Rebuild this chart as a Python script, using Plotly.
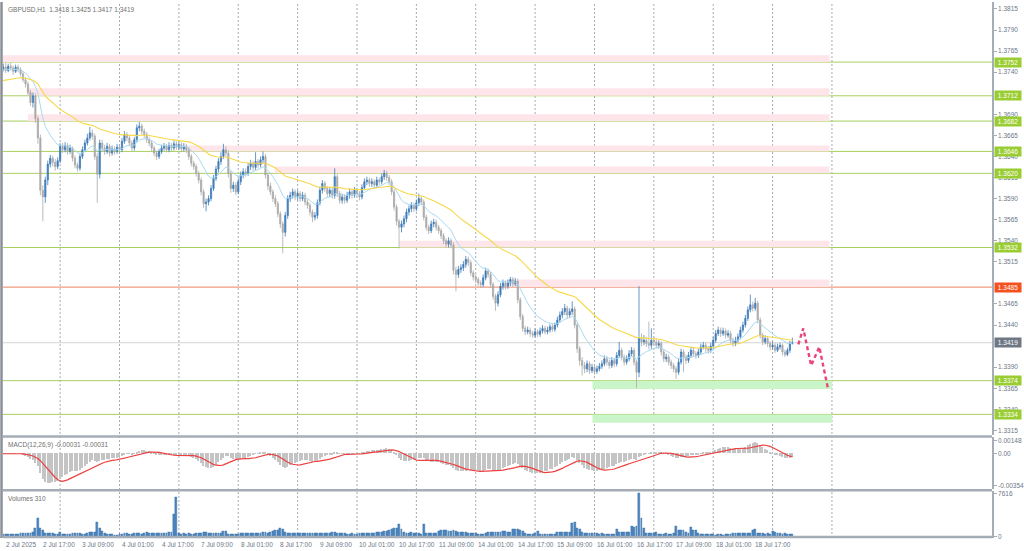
import plotly.graph_objects as go

# ---------------- data (GBPUSD H1) ----------------
first_open = 1.3742
closes = [
 1.3744, 1.3746, 1.3742, 1.3747, 1.3745, 1.3741, 1.3746, 1.3743, 1.3738, 1.3731,
 1.3726, 1.3716, 1.3704, 1.3712, 1.3685, 1.3662, 1.3600, 1.3592, 1.3612, 1.3631,
 1.3638, 1.3633, 1.3628, 1.3635, 1.3652, 1.3648, 1.3653, 1.3646, 1.3650, 1.3638,
 1.3630, 1.3626, 1.3640, 1.3648, 1.3656, 1.3662, 1.3668, 1.3664, 1.3640, 1.3619,
 1.3656, 1.3650, 1.3646, 1.3652, 1.3644, 1.3649, 1.3646, 1.3651, 1.3648, 1.3658,
 1.3666, 1.3662, 1.3656, 1.3650, 1.3660, 1.3674, 1.3676, 1.3670, 1.3666, 1.3660,
 1.3656, 1.3650, 1.3644, 1.3640, 1.3646, 1.3650, 1.3652, 1.3648, 1.3653, 1.3650,
 1.3655, 1.3651, 1.3654, 1.3649, 1.3652, 1.3648, 1.3640, 1.3632, 1.3628, 1.3620,
 1.3612, 1.3598, 1.3584, 1.3586, 1.3590, 1.3602, 1.3614, 1.3625, 1.3634, 1.3640,
 1.3648, 1.3644, 1.3620, 1.3602, 1.3606, 1.3598, 1.3610, 1.3618, 1.3622, 1.3620,
 1.3628, 1.3632, 1.3627, 1.3634, 1.3630, 1.3636, 1.3640, 1.3618, 1.3605, 1.3598,
 1.3590, 1.3584, 1.3572, 1.3560, 1.3550, 1.3570, 1.3590, 1.3594, 1.3598, 1.3592,
 1.3596, 1.3590, 1.3594, 1.3586, 1.3582, 1.3574, 1.3568, 1.3570, 1.3585, 1.3600,
 1.3608, 1.3602, 1.3596, 1.3600, 1.3594, 1.3616, 1.3596, 1.3588, 1.3592, 1.3588,
 1.3594, 1.3598, 1.3594, 1.3600, 1.3596, 1.3592, 1.3603, 1.3610, 1.3612, 1.3608,
 1.3610, 1.3606, 1.3612, 1.3610, 1.3616, 1.3620, 1.3615, 1.3610, 1.3598, 1.3580,
 1.3563, 1.3556, 1.3560, 1.3566, 1.3574, 1.3578, 1.3582, 1.3578, 1.3585, 1.3590,
 1.3586, 1.3568, 1.3556, 1.3552, 1.3560, 1.3562, 1.3556, 1.3552, 1.3546, 1.3540,
 1.3536, 1.3540, 1.3535, 1.3505, 1.3500, 1.3506, 1.3508, 1.3512, 1.3518, 1.3514,
 1.3502, 1.3497, 1.3494, 1.3490, 1.3488, 1.3496, 1.3504, 1.3500, 1.3488, 1.3474,
 1.3466, 1.3476, 1.3486, 1.3490, 1.3486, 1.3490, 1.3494, 1.3489, 1.3492, 1.3470,
 1.3450, 1.3436, 1.3432, 1.3434, 1.3430, 1.3428, 1.3432, 1.3429, 1.3433, 1.3436,
 1.3432, 1.3434, 1.3438, 1.3435, 1.3440, 1.3446, 1.3452, 1.3456, 1.3460, 1.3452,
 1.3456, 1.3459, 1.3440, 1.3412, 1.3398, 1.3392, 1.3388, 1.3394, 1.3386, 1.3390,
 1.3385, 1.3388, 1.3391, 1.3394, 1.3400, 1.3396, 1.3392, 1.3398, 1.3394, 1.3404,
 1.3410, 1.3402, 1.3396, 1.3400, 1.3406, 1.3410, 1.3396, 1.3384, 1.3424, 1.3420,
 1.3422, 1.3418, 1.3416, 1.3422, 1.3420, 1.3416, 1.3418, 1.3408, 1.3400, 1.3402,
 1.3396, 1.3392, 1.3388, 1.3384, 1.3396, 1.3408, 1.3402, 1.3398, 1.3404, 1.3410,
 1.3406, 1.3404, 1.3408, 1.3414, 1.3416, 1.3412, 1.3410, 1.3415, 1.3422, 1.3430,
 1.3434, 1.3430, 1.3433, 1.3428, 1.3430, 1.3422, 1.3418, 1.3422, 1.3426, 1.3434,
 1.3440, 1.3448, 1.3458, 1.3464, 1.3460, 1.3466, 1.3446, 1.3428, 1.3420, 1.3424,
 1.3418, 1.3414, 1.3416, 1.3410, 1.3414, 1.3416, 1.3408, 1.3405, 1.3410, 1.3418,
 1.3419,
]
highs = [
 1.3748, 1.3750, 1.3751, 1.3750, 1.3751, 1.3748, 1.3749, 1.3749, 1.3746, 1.3741,
 1.3734, 1.3729, 1.3719, 1.3716, 1.3715, 1.3688, 1.3666, 1.3606, 1.3616, 1.3635,
 1.3642, 1.3641, 1.3637, 1.3639, 1.3656, 1.3656, 1.3657, 1.3656, 1.3654, 1.3652,
 1.3641, 1.3633, 1.3643, 1.3652, 1.3660, 1.3667, 1.3675, 1.3672, 1.3667, 1.3644,
 1.3660, 1.3660, 1.3654, 1.3656, 1.3655, 1.3653, 1.3652, 1.3655, 1.3654, 1.3662,
 1.3670, 1.3669, 1.3665, 1.3659, 1.3663, 1.3678, 1.3681, 1.3679, 1.3673, 1.3669,
 1.3663, 1.3659, 1.3653, 1.3647, 1.3649, 1.3654, 1.3656, 1.3655, 1.3657, 1.3656,
 1.3659, 1.3658, 1.3658, 1.3657, 1.3656, 1.3655, 1.3651, 1.3643, 1.3635, 1.3631,
 1.3623, 1.3615, 1.3601, 1.3590, 1.3594, 1.3606, 1.3618, 1.3629, 1.3638, 1.3645,
 1.3655, 1.3652, 1.3647, 1.3623, 1.3610, 1.3609, 1.3614, 1.3622, 1.3626, 1.3626,
 1.3632, 1.3636, 1.3635, 1.3645, 1.3637, 1.3640, 1.3646, 1.3643, 1.3621, 1.3609,
 1.3601, 1.3594, 1.3587, 1.3575, 1.3563, 1.3574, 1.3594, 1.3598, 1.3602, 1.3601,
 1.3600, 1.3599, 1.3598, 1.3597, 1.3589, 1.3585, 1.3577, 1.3574, 1.3589, 1.3604,
 1.3612, 1.3611, 1.3605, 1.3604, 1.3603, 1.3626, 1.3619, 1.3599, 1.3596, 1.3595,
 1.3598, 1.3602, 1.3601, 1.3604, 1.3603, 1.3599, 1.3607, 1.3614, 1.3616, 1.3615,
 1.3614, 1.3613, 1.3616, 1.3615, 1.3620, 1.3624, 1.3623, 1.3618, 1.3613, 1.3601,
 1.3583, 1.3566, 1.3564, 1.3570, 1.3578, 1.3582, 1.3586, 1.3585, 1.3589, 1.3596,
 1.3593, 1.3589, 1.3571, 1.3559, 1.3564, 1.3566, 1.3565, 1.3559, 1.3555, 1.3549,
 1.3543, 1.3544, 1.3543, 1.3538, 1.3509, 1.3510, 1.3512, 1.3516, 1.3522, 1.3521,
 1.3517, 1.3505, 1.3500, 1.3497, 1.3493, 1.3500, 1.3508, 1.3507, 1.3503, 1.3491,
 1.3477, 1.3480, 1.3490, 1.3494, 1.3493, 1.3494, 1.3497, 1.3497, 1.3496, 1.3495,
 1.3473, 1.3453, 1.3439, 1.3438, 1.3437, 1.3433, 1.3436, 1.3435, 1.3437, 1.3440,
 1.3439, 1.3438, 1.3441, 1.3441, 1.3443, 1.3450, 1.3456, 1.3460, 1.3465, 1.3463,
 1.3460, 1.3468, 1.3462, 1.3443, 1.3415, 1.3402, 1.3396, 1.3398, 1.3397, 1.3394,
 1.3393, 1.3392, 1.3395, 1.3398, 1.3404, 1.3403, 1.3399, 1.3402, 1.3401, 1.3408,
 1.3420, 1.3413, 1.3405, 1.3404, 1.3410, 1.3414, 1.3413, 1.3399, 1.3486, 1.3430,
 1.3428, 1.3426, 1.3444, 1.3436, 1.3426, 1.3424, 1.3422, 1.3421, 1.3411, 1.3406,
 1.3405, 1.3399, 1.3395, 1.3391, 1.3400, 1.3412, 1.3411, 1.3405, 1.3408, 1.3414,
 1.3413, 1.3409, 1.3412, 1.3418, 1.3420, 1.3419, 1.3415, 1.3419, 1.3426, 1.3434,
 1.3438, 1.3437, 1.3437, 1.3436, 1.3434, 1.3433, 1.3425, 1.3426, 1.3430, 1.3438,
 1.3444, 1.3452, 1.3462, 1.3476, 1.3468, 1.3472, 1.3469, 1.3449, 1.3431, 1.3428,
 1.3427, 1.3421, 1.3420, 1.3419, 1.3418, 1.3419, 1.3418, 1.3411, 1.3413, 1.3421,
 1.3425,
]
lows = [
 1.3739, 1.3741, 1.3739, 1.3740, 1.3742, 1.3737, 1.3739, 1.3740, 1.3735, 1.3728,
 1.3722, 1.3712, 1.3700, 1.3698, 1.3680, 1.3655, 1.3594, 1.3563, 1.3585, 1.3606,
 1.3627, 1.3628, 1.3623, 1.3625, 1.3632, 1.3644, 1.3645, 1.3642, 1.3643, 1.3634,
 1.3626, 1.3622, 1.3623, 1.3637, 1.3645, 1.3653, 1.3659, 1.3660, 1.3636, 1.3585,
 1.3614, 1.3646, 1.3642, 1.3643, 1.3640, 1.3641, 1.3642, 1.3643, 1.3644, 1.3645,
 1.3655, 1.3658, 1.3652, 1.3646, 1.3647, 1.3657, 1.3670, 1.3666, 1.3662, 1.3656,
 1.3652, 1.3646, 1.3640, 1.3636, 1.3637, 1.3643, 1.3647, 1.3645, 1.3645, 1.3646,
 1.3647, 1.3648, 1.3648, 1.3645, 1.3646, 1.3644, 1.3636, 1.3628, 1.3624, 1.3616,
 1.3608, 1.3594, 1.3579, 1.3575, 1.3582, 1.3587, 1.3599, 1.3611, 1.3621, 1.3630,
 1.3637, 1.3640, 1.3615, 1.3597, 1.3598, 1.3594, 1.3595, 1.3606, 1.3614, 1.3616,
 1.3617, 1.3624, 1.3623, 1.3624, 1.3626, 1.3627, 1.3632, 1.3614, 1.3600, 1.3594,
 1.3586, 1.3580, 1.3568, 1.3555, 1.3525, 1.3545, 1.3566, 1.3586, 1.3590, 1.3588,
 1.3588, 1.3586, 1.3587, 1.3582, 1.3578, 1.3570, 1.3562, 1.3564, 1.3566, 1.3582,
 1.3596, 1.3598, 1.3592, 1.3592, 1.3590, 1.3590, 1.3592, 1.3584, 1.3584, 1.3584,
 1.3585, 1.3590, 1.3590, 1.3591, 1.3592, 1.3588, 1.3589, 1.3600, 1.3606, 1.3604,
 1.3604, 1.3602, 1.3603, 1.3606, 1.3607, 1.3612, 1.3611, 1.3606, 1.3594, 1.3576,
 1.3558, 1.3531, 1.3550, 1.3556, 1.3562, 1.3570, 1.3574, 1.3574, 1.3575, 1.3581,
 1.3582, 1.3564, 1.3552, 1.3548, 1.3549, 1.3556, 1.3552, 1.3548, 1.3542, 1.3536,
 1.3532, 1.3532, 1.3531, 1.3500, 1.3480, 1.3496, 1.3502, 1.3504, 1.3508, 1.3510,
 1.3498, 1.3493, 1.3490, 1.3486, 1.3484, 1.3485, 1.3493, 1.3496, 1.3484, 1.3470,
 1.3457, 1.3462, 1.3473, 1.3482, 1.3482, 1.3483, 1.3486, 1.3485, 1.3486, 1.3466,
 1.3446, 1.3432, 1.3428, 1.3429, 1.3426, 1.3425, 1.3425, 1.3426, 1.3426, 1.3430,
 1.3429, 1.3429, 1.3431, 1.3432, 1.3432, 1.3437, 1.3443, 1.3448, 1.3452, 1.3448,
 1.3449, 1.3452, 1.3436, 1.3407, 1.3392, 1.3380, 1.3383, 1.3384, 1.3382, 1.3383,
 1.3381, 1.3382, 1.3385, 1.3388, 1.3391, 1.3392, 1.3388, 1.3389, 1.3390, 1.3391,
 1.3401, 1.3398, 1.3392, 1.3393, 1.3397, 1.3403, 1.3392, 1.3365, 1.3378, 1.3415,
 1.3416, 1.3414, 1.3411, 1.3412, 1.3416, 1.3412, 1.3412, 1.3404, 1.3396, 1.3396,
 1.3392, 1.3388, 1.3384, 1.3376, 1.3381, 1.3393, 1.3384, 1.3394, 1.3395, 1.3401,
 1.3402, 1.3400, 1.3401, 1.3405, 1.3411, 1.3408, 1.3406, 1.3407, 1.3412, 1.3419,
 1.3427, 1.3426, 1.3427, 1.3424, 1.3425, 1.3418, 1.3414, 1.3415, 1.3419, 1.3423,
 1.3431, 1.3437, 1.3445, 1.3455, 1.3456, 1.3457, 1.3442, 1.3424, 1.3416, 1.3417,
 1.3414, 1.3410, 1.3411, 1.3407, 1.3408, 1.3411, 1.3404, 1.3402, 1.3403, 1.3407,
 1.3417,
]
volumes = [
 300, 360, 340, 400, 380, 350, 420, 400, 520, 560,
 600, 540, 620, 700, 1500, 3260, 1450, 1100, 560, 520,
 540, 480, 450, 420, 760, 380, 360, 400, 420, 540,
 560, 500, 480, 420, 460, 520, 700, 720, 680, 2530,
 1450, 900, 560, 380, 360, 340, 220, 200, 360, 420,
 480, 520, 460, 440, 500, 540, 480, 420, 600, 680,
 640, 620, 560, 520, 580, 560, 500, 540, 720, 700,
 3900, 6900, 480, 420, 500, 460, 540, 440, 420, 500,
 640, 620, 700, 660, 560, 540, 520, 560, 500, 540,
 880, 900, 400, 360, 380, 360, 420, 540, 560, 520,
 500, 560, 540, 520, 560, 640, 700, 660, 620, 720,
 900, 1000, 1100, 1450, 1300, 760, 560, 540, 520, 560,
 540, 500, 520, 560, 540, 600, 560, 520, 540, 560,
 580, 560, 520, 600, 700, 720, 640, 600, 560, 480,
 440, 420, 480, 440, 400, 520, 560, 540, 520, 560,
 540, 600, 700, 820, 760, 900, 860, 1000, 1200, 1400,
 1450, 2170, 1300, 680, 640, 600, 700, 620, 560, 540,
 380, 2200, 560, 520, 540, 560, 500, 900, 1000, 1100,
 1050, 980, 900, 1100, 950, 800, 760, 720, 700, 600,
 560, 520, 500, 440, 420, 460, 480, 720, 700, 760,
 740, 820, 780, 900, 860, 800, 760, 1250, 1280, 1200,
 1100, 900, 520, 440, 380, 420, 480, 880, 300, 420,
 380, 320, 300, 400, 360, 720, 700, 760, 740, 700,
 720, 2300, 2450, 1400, 1300, 760, 640, 600, 560, 620,
 540, 480, 440, 500, 380, 420, 460, 400, 440, 1240,
 760, 720, 700, 680, 720, 1800, 1700, 1800, 7616, 3260,
 1400, 560, 600, 540, 500, 700, 460, 420, 400, 480,
 440, 420, 500, 1800, 1100, 1050, 1000, 700, 640, 1600,
 1050, 1000, 500, 460, 420, 380, 340, 300, 360, 280,
 320, 300, 260, 320, 360, 420, 600, 640, 520, 560,
 640, 600, 540, 580, 1150, 1200, 640, 560, 600, 440,
 480, 400, 880, 760, 500, 480, 420, 560, 420, 360,
 310,
]

# time axis: one bar per hour, 24 bars per day, a label every 16 bars
first_label = "2 Jul 2025"
time_labels = ["2 Jul 17:00", "3 Jul 09:00", "4 Jul 01:00", "4 Jul 17:00", "7 Jul 09:00",
               "8 Jul 01:00", "8 Jul 17:00", "9 Jul 09:00", "10 Jul 01:00", "10 Jul 17:00",
               "11 Jul 09:00", "14 Jul 01:00", "14 Jul 17:00", "15 Jul 09:00", "16 Jul 01:00",
               "16 Jul 17:00", "17 Jul 09:00", "18 Jul 01:00", "18 Jul 17:00"]
first_label_bar = 17
bars_per_label = 16
bars_per_day = 24
n_day_lines = 14

# support / resistance levels and zones (prices; zone starts in bar numbers)
resistance_levels = [1.3752, 1.3712, 1.3682, 1.3646, 1.3620, 1.3532]
resistance_zone_tops = [1.3760, 1.3721, 1.3690, 1.3653, 1.3628, 1.3540]
resistance_zone_start = [0, 10.6, 11, 74.4, 110.7, 161.2]
key_level = 1.3485
key_zone_top = 1.3494
key_zone_start = 204.8
support_levels = [1.3374, 1.3334]
support_zone_bottoms = [1.3364, 1.3324]
support_zone_start = 239.2
zone_end = 335.0
support_zone_end = 336.1
last_price = 1.3419

forecast_bars = [322.4, 324.4, 327.6, 330.9, 334.5]
forecast_prices = [1.3417, 1.3436, 1.3392, 1.3414, 1.3363]

price_ticks = [1.3815, 1.3790, 1.3765, 1.3740, 1.3690, 1.3665, 1.3640, 1.3615, 1.3590,
               1.3565, 1.3540, 1.3515, 1.3465, 1.3440, 1.3390, 1.3365, 1.3340, 1.3315]
macd_ticks = [0.00148, 0.0, -0.00354]
macd_tick_text = ["0.00148", "0.00", "-0.00354"]
vol_ticks = [7616, 0]

fast_period, slow_period = 14, 50
fast_seed, slow_seed = 1.3742, 1.3729

# ---------------- indicators ----------------
n = len(closes)
idx = list(range(n))
opens = [first_open] + closes[:-1]


def ema(vals, period, seed):
    a = 2.0 / (period + 1)
    out, e = [], seed
    for v in vals:
        e = e + a * (v - e)
        out.append(e)
    return out


ma_fast = ema(closes, fast_period, fast_seed)
ma_slow = ema(closes, slow_period, slow_seed)
e12 = ema(closes, 12, closes[0])
e26 = ema(closes, 26, closes[0])
macd = [a - b for a, b in zip(e12, e26)]
signal = []
for i in range(n):
    w = macd[max(0, i - 8):i + 1]
    signal.append(sum(w) / len(w))

# ---------------- figure ----------------
BULL = "#3f7cba"
BEAR = "#aaaaaa"
LEVEL_GREEN = "#a9cf5e"
AXIS_FONT = dict(family="Liberation Sans", size=6.5, color="#6b7788")

fig = go.Figure()
fig.add_trace(go.Candlestick(
    x=idx, open=opens, high=highs, low=lows, close=closes,
    increasing=dict(line=dict(color=BULL, width=0.8), fillcolor=BULL),
    decreasing=dict(line=dict(color=BEAR, width=0.8), fillcolor=BEAR),
    whiskerwidth=0, showlegend=False, hoverinfo="skip"))
fig.add_trace(go.Scatter(x=idx, y=ma_fast, mode="lines",
                         line=dict(color="#a8d8ef", width=1), showlegend=False, hoverinfo="skip"))
fig.add_trace(go.Scatter(x=idx, y=ma_slow, mode="lines",
                         line=dict(color="#f7d84a", width=1.1), showlegend=False, hoverinfo="skip"))
fig.add_trace(go.Scatter(x=forecast_bars, y=forecast_prices, mode="lines",
                         line=dict(color="#e8457a", width=2.4, dash="4px,3px"),
                         showlegend=False, hoverinfo="skip"))
# MACD
fig.add_trace(go.Bar(x=idx, y=macd, marker=dict(color="#c4c4c4", line=dict(width=0)),
                     width=0.6, yaxis="y2", showlegend=False, hoverinfo="skip"))
fig.add_trace(go.Scatter(x=idx, y=signal, mode="lines", line=dict(color="#ee3f3f", width=1.2),
                         yaxis="y2", showlegend=False, hoverinfo="skip"))
# Volumes
fig.add_trace(go.Bar(x=idx, y=volumes, marker=dict(color="#4b86c0", line=dict(color="#2f6aa5", width=0.4)),
                     width=0.75, yaxis="y3", showlegend=False, hoverinfo="skip"))

shapes = []
for lvl, top, x0 in zip(resistance_levels, resistance_zone_tops, resistance_zone_start):
    shapes.append(dict(type="rect", xref="x", yref="y", x0=x0, x1=zone_end, y0=lvl, y1=top,
                       fillcolor="#fde5ea", line=dict(width=0), layer="below"))
shapes.append(dict(type="rect", xref="x", yref="y", x0=key_zone_start, x1=zone_end,
                   y0=key_level, y1=key_zone_top, fillcolor="#fde5ea", line=dict(width=0), layer="below"))
for lvl, bot in zip(support_levels, support_zone_bottoms):
    shapes.append(dict(type="rect", xref="x", yref="y", x0=support_zone_start, x1=support_zone_end,
                       y0=bot, y1=lvl, fillcolor="#c9f5c9", line=dict(width=0), layer="below"))
for k in range(1, n_day_lines + 1):
    g = bars_per_day * k
    shapes.append(dict(type="line", xref="x", yref="paper", x0=g, x1=g, y0=0, y1=1,
                       line=dict(color="#a3abb8", width=1, dash="2px,2px"), layer="below"))
for lvl in resistance_levels + support_levels:
    shapes.append(dict(type="line", xref="paper", yref="y", x0=0, x1=1, y0=lvl, y1=lvl,
                       line=dict(color=LEVEL_GREEN, width=1), layer="below"))
shapes.append(dict(type="line", xref="paper", yref="y", x0=0, x1=1, y0=key_level, y1=key_level,
                   line=dict(color="#ef8160", width=1), layer="below"))
shapes.append(dict(type="line", xref="paper", yref="y", x0=0, x1=1, y0=last_price, y1=last_price,
                   line=dict(color="#d4d4d4", width=1), layer="below"))
H = 538.0
for ypx in [436, 490, 537]:
    shapes.append(dict(type="line", xref="paper", yref="paper", x0=0, x1=1,
                       y0=(H - ypx) / H, y1=(H - ypx) / H, line=dict(color="#a5adb7", width=2.5)))
shapes.append(dict(type="line", xref="paper", yref="paper", x0=-0.0015, x1=-0.0015, y0=0, y1=1,
                   line=dict(color="#8a9098", width=2.5)))

annotations = []
label_font = dict(family="Liberation Sans", size=6.5, color="white")
for lvl in resistance_levels + support_levels:
    annotations.append(dict(xref="paper", yref="y", x=1, y=lvl, xanchor="left", xshift=2,
                            text=f"{lvl:.4f}", showarrow=False, bgcolor="#9acd32",
                            font=label_font, width=25, height=8, borderpad=0.5))
annotations.append(dict(xref="paper", yref="y", x=1, y=key_level, xanchor="left", xshift=2,
                        text=f"{key_level:.4f}", showarrow=False, bgcolor="#f4511e",
                        font=label_font, width=25, height=8, borderpad=0.5))
annotations.append(dict(xref="paper", yref="y", x=1, y=last_price, xanchor="left", xshift=2,
                        text=f"{last_price:.4f}", showarrow=False, bgcolor="#6e7784",
                        font=label_font, width=25, height=8, borderpad=0.5))

small = dict(family="Liberation Sans", size=6.5, color="#707070")
annotations.append(dict(xref="paper", yref="paper", x=0, y=1, xanchor="left", yanchor="top",
                        xshift=3, yshift=-2, showarrow=False, font=small,
                        text="GBPUSD,H1  1.3418 1.3425 1.3417 1.3419"))
annotations.append(dict(xref="paper", yref="paper", x=0, y=(H - 437) / H, xanchor="left", yanchor="top",
                        xshift=3, yshift=-2, showarrow=False, font=small,
                        text="MACD(12,26,9) -0.00031 -0.00031"))
annotations.append(dict(xref="paper", yref="paper", x=0, y=(H - 491) / H, xanchor="left", yanchor="top",
                        xshift=3, yshift=-2, showarrow=False, font=small,
                        text="Volumes 310"))
annotations.append(dict(xref="paper", yref="paper", x=0, y=0, xanchor="left", yanchor="top",
                        xshift=1, yshift=-1, showarrow=False, font=AXIS_FONT, text=first_label))
for k, t in enumerate(time_labels):
    annotations.append(dict(xref="x", yref="paper", x=first_label_bar + bars_per_label * k, y=0,
                            xanchor="left", yanchor="top", xshift=-2, yshift=-1,
                            showarrow=False, font=AXIS_FONT, text=t))

price_top = 1.3815 + 7 / 8460
price_bot = 1.3815 - 428 / 8460

fig.update_layout(
    width=1024, height=551,
    margin=dict(l=3, r=31, t=0, b=13),
    paper_bgcolor="white", plot_bgcolor="white",
    bargap=0, barmode="overlay",
    xaxis=dict(range=[0.9, 400.7], showgrid=False, zeroline=False, showticklabels=False,
               rangeslider=dict(visible=False), anchor="y3", fixedrange=True),
    yaxis=dict(domain=[(H - 435) / H, 1], range=[price_bot, price_top], side="right",
               tickvals=price_ticks, ticktext=[f"{v:.4f}" for v in price_ticks],
               tickfont=AXIS_FONT, ticks="outside", ticklen=3, tickcolor="#a5adb7",
               showgrid=False, zeroline=False, showline=True, linecolor="#a5adb7", linewidth=1.5),
    yaxis2=dict(domain=[(H - 489) / H, (H - 437) / H], range=[-0.0039, 0.0018], side="right",
                tickvals=macd_ticks, ticktext=macd_tick_text, tickfont=AXIS_FONT,
                ticks="outside", ticklen=3, tickcolor="#a5adb7",
                showgrid=False, zeroline=False, showline=True, linecolor="#a5adb7", linewidth=1.5),
    yaxis3=dict(domain=[0, (H - 491) / H], range=[-300, 8000], side="right",
                tickvals=vol_ticks, ticktext=[str(v) for v in vol_ticks], tickfont=AXIS_FONT,
                ticks="outside", ticklen=3, tickcolor="#a5adb7",
                showgrid=False, zeroline=False, showline=True, linecolor="#a5adb7", linewidth=1.5),
    shapes=shapes, annotations=annotations,
)

fig.write_html("out.html", config={"displayModeBar": False},
               post_script="document.body.style.margin='0px';document.body.style.overflow='hidden';")
